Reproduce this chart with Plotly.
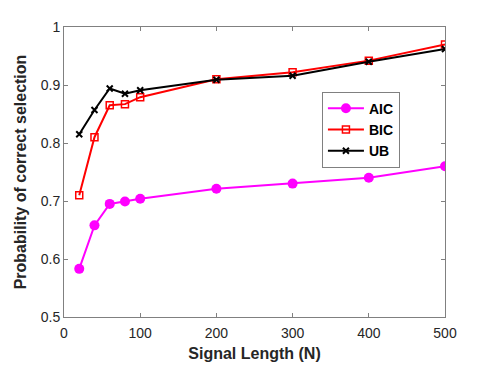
import plotly.graph_objects as go

# signal lengths
n = [20, 40, 60, 80, 100, 200, 300, 400, 500]

aic = [0.583, 0.658, 0.695, 0.699, 0.704, 0.721, 0.730, 0.740, 0.760]
bic = [0.710, 0.810, 0.865, 0.867, 0.879, 0.910, 0.922, 0.942, 0.970]
ub = [0.815, 0.857, 0.894, 0.885, 0.891, 0.909, 0.916, 0.940, 0.962]

y_ticks = [0.5, 0.6, 0.7, 0.8, 0.9, 1.0]
y_labels = ['0.5', '0.6', '0.7', '0.8', '0.9', '1']
x_ticks = [0, 100, 200, 300, 400, 500]

fig = go.Figure()

fig.add_trace(go.Scatter(x=n, y=aic, name='<b>AIC</b>', mode='lines+markers',
                         line=dict(color='#ff00ff', width=2),
                         marker=dict(symbol='circle', size=10, color='#ff00ff')))
fig.add_trace(go.Scatter(x=n, y=bic, name='<b>BIC</b>', mode='lines+markers',
                         line=dict(color='#ff0000', width=2),
                         marker=dict(symbol='square-open', size=7, color='#ff0000',
                                     line=dict(width=1.5))))
fig.add_trace(go.Scatter(x=n, y=ub, name='<b>UB</b>', mode='lines+markers',
                         line=dict(color='#000000', width=2),
                         marker=dict(symbol='x-thin-open', size=6, color='#000000',
                                     line=dict(width=2, color='#000000'))))

axis_style = dict(showgrid=False, zeroline=False, showline=True, mirror='ticks',
                  linecolor='#808080', linewidth=1, ticks='inside', ticklen=4,
                  tickcolor='#808080', tickfont=dict(size=14, color='#262626'),
                  automargin=False)

# page body has an 8px margin, so the figure is sized to fit inside it
fig.update_layout(
    width=483, height=360,
    margin=dict(l=56, r=46, t=19, b=51),
    paper_bgcolor='white', plot_bgcolor='white',
    font=dict(family='Liberation Sans, Arial, sans-serif', color='#262626'),
    xaxis=dict(range=[0, 500], tickvals=x_ticks, ticklabelstandoff=3,
               title=dict(text='<b>Signal Length (N)</b>', font=dict(size=16), standoff=8),
               **axis_style),
    yaxis=dict(range=[0.5, 1.0], tickvals=y_ticks, ticktext=y_labels,
               title=dict(text='<b>Probability of correct selection</b>', font=dict(size=16), standoff=10),
               **axis_style),
    legend=dict(x=0.677, y=0.777, xanchor='left', yanchor='top',
                bgcolor='white', bordercolor='#808080', borderwidth=1,
                font=dict(size=14, color='black'), tracegroupgap=0,
                itemwidth=36),
)

fig.write_html("out.html")
